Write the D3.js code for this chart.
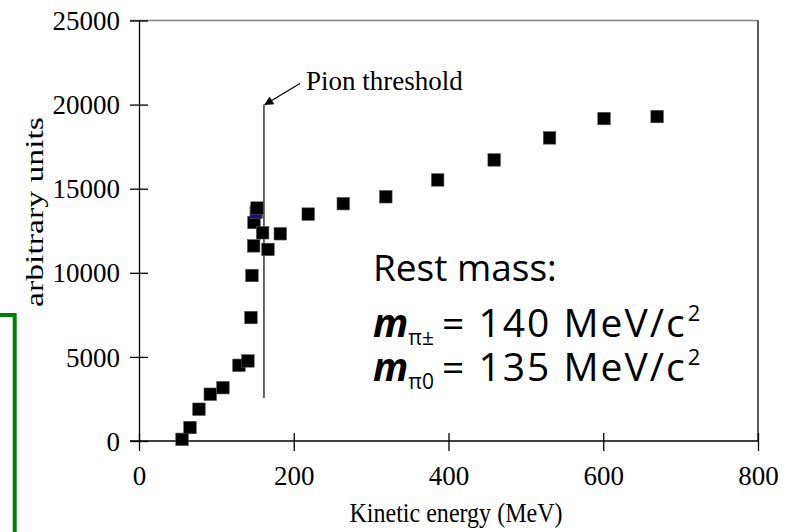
<!DOCTYPE html>
<html>
<head>
<meta charset="utf-8">
<script src="https://cdn.jsdelivr.net/npm/d3@7"></script>
<style>
  body { margin: 0; background: #fff; }
  svg { display: block; }
</style>
</head>
<body>
<div id="chart"></div>
<script>
// kinetic energy (MeV) and yield (arbitrary units)
var energy = [55.6, 65.9, 77.5, 92.1, 108.5, 129.2, 140.8, 144.7, 146.0, 148.2, 148.6, 151.5,
              152.5, 159.8, 166.7, 182.6, 218.7, 264, 319, 386, 459, 530.6, 601, 669.6];
var counts = [100, 800, 1890, 2780, 3170, 4500, 4760, 7340, 9840, 11600, 12990, 13600,
              13850, 12380, 11390, 12320, 13490, 14110, 14520, 15520, 16710, 18020, 19170, 19290];
var highlighted = [11];

var xTicks = [0, 200, 400, 600, 800];
var yTicks = [0, 5000, 10000, 15000, 20000, 25000];

var threshold = { energy: 161.5, top: 20000, bottom: 2560, label: "Pion threshold" };

var xTitle = "Kinetic energy (MeV)";
var yTitle = "arbitrary units";

var restTitle = "Rest mass:";
var restSubs = ["\u03c0\u00b1", "\u03c00"];
var restValues = ["= 140 MeV/c", "= 135 MeV/c"];

var W = 792, H = 532;
var svg = d3.select("#chart").append("svg")
    .attr("width", W)
    .attr("height", H);

var x = d3.scaleLinear().domain([0, 800]).range([139, 758]);
var y = d3.scaleLinear().domain([0, 25000]).range([441, 20.5]);

var serif = "'Liberation Serif', 'Times New Roman', serif";

// plot frame: top in grey, right in black
svg.append("line")
    .attr("x1", 130).attr("x2", x(800))
    .attr("y1", y(25000)).attr("y2", y(25000))
    .attr("stroke", "#808080").attr("stroke-width", 1.3);
svg.append("line")
    .attr("x1", x(800)).attr("x2", x(800))
    .attr("y1", y(25000)).attr("y2", y(0))
    .attr("stroke", "#000").attr("stroke-width", 1.3);

// X axis
var gx = svg.append("g")
    .attr("transform", "translate(0," + y(0) + ")")
    .call(d3.axisBottom(x).tickValues(xTicks).tickFormat(d3.format("d")).tickSizeOuter(0).tickPadding(0));
gx.select(".domain").attr("d", "M130,0H" + x(800)).attr("stroke-width", 1.3);
gx.selectAll(".tick line").attr("y1", -8).attr("y2", 10).attr("stroke-width", 1.3);
gx.selectAll(".tick text")
    .attr("y", 44)
    .attr("dy", null)
    .style("font-family", serif)
    .style("font-size", "27px")
    .attr("fill", "#000");

// Y axis
var gy = svg.append("g")
    .attr("transform", "translate(" + x(0) + ",0)")
    .call(d3.axisLeft(y).tickValues(yTicks).tickFormat(d3.format("d")).tickSizeOuter(0).tickPadding(0));
gy.select(".domain").attr("stroke-width", 1.3);
gy.selectAll(".tick line").attr("x1", -9).attr("x2", 9).attr("stroke-width", 1.3);
gy.selectAll(".tick text")
    .attr("x", -19)
    .attr("dy", "0.34em")
    .style("font-family", serif)
    .style("font-size", "27px")
    .attr("fill", "#000");

// axis titles
svg.append("text")
    .attr("x", 456).attr("y", 522)
    .attr("text-anchor", "middle")
    .attr("textLength", 213)
    .attr("lengthAdjust", "spacingAndGlyphs")
    .style("font-family", serif).style("font-size", "27px")
    .text(xTitle);
svg.append("text")
    .attr("transform", "translate(43,212) rotate(-90)")
    .attr("text-anchor", "middle")
    .attr("textLength", 190)
    .attr("lengthAdjust", "spacingAndGlyphs")
    .style("font-family", serif).style("font-size", "25px")
    .text(yTitle);

// threshold marker
svg.append("defs").append("marker")
    .attr("id", "arrow")
    .attr("viewBox", "0 0 10 10")
    .attr("refX", 9).attr("refY", 5)
    .attr("markerWidth", 12).attr("markerHeight", 9)
    .attr("markerUnits", "userSpaceOnUse")
    .attr("orient", "auto")
    .append("path").attr("d", "M0,0L10,5L0,10z").attr("fill", "#000");

svg.append("line")
    .attr("x1", x(threshold.energy)).attr("x2", x(threshold.energy))
    .attr("y1", y(threshold.top)).attr("y2", y(threshold.bottom))
    .attr("stroke", "#000").attr("stroke-width", 1.2);
svg.append("line")
    .attr("x1", x(threshold.energy) + 36).attr("x2", x(threshold.energy) + 1)
    .attr("y1", y(threshold.top) - 21).attr("y2", y(threshold.top))
    .attr("stroke", "#000").attr("stroke-width", 1.2)
    .attr("marker-end", "url(#arrow)");
svg.append("text")
    .attr("x", x(threshold.energy) + 42).attr("y", y(threshold.top) - 15)
    .style("font-family", serif).style("font-size", "27px")
    .text(threshold.label);

// data squares
var s = 12.5;
svg.append("g").selectAll("rect")
    .data(energy)
    .enter()
    .append("rect")
    .attr("x", function(d) { return x(d) - s / 2; })
    .attr("y", function(d, i) { return y(counts[i]) - s / 2; })
    .attr("width", s)
    .attr("height", s)
    .attr("fill", function(d, i) { return highlighted.indexOf(i) >= 0 ? "#12127a" : "#000"; })
    .attr("stroke", "#555")
    .attr("stroke-width", 0.6);

// rest mass note
var note = svg.append("g")
    .style("font-family", "'Open Sans', 'Noto Sans', sans-serif")
    .attr("fill", "#000");
note.append("text")
    .attr("x", 373).attr("y", 281)
    .style("font-size", "37px")
    .text(restTitle);

restValues.forEach(function(v, i) {
    var t = note.append("text")
        .attr("x", 373).attr("y", 337 + i * 44)
        .style("font-size", "39px");
    t.append("tspan")
        .style("font-weight", "bold").style("font-style", "italic")
        .text("m");
    t.append("tspan")
        .attr("dy", 8).style("font-size", "21px")
        .text(restSubs[i]);
    t.append("tspan")
        .attr("dy", -8).attr("dx", 8)
        .style("letter-spacing", "2px")
        .text(v);
    t.append("tspan")
        .attr("dy", -16).attr("dx", 1).style("font-size", "22px")
        .text("2");
});

// green bracket on the left edge
svg.append("path")
    .attr("d", "M0,315H14.7V532")
    .attr("fill", "none")
    .attr("stroke", "#008000")
    .attr("stroke-width", 4);
</script>
</body>
</html>
